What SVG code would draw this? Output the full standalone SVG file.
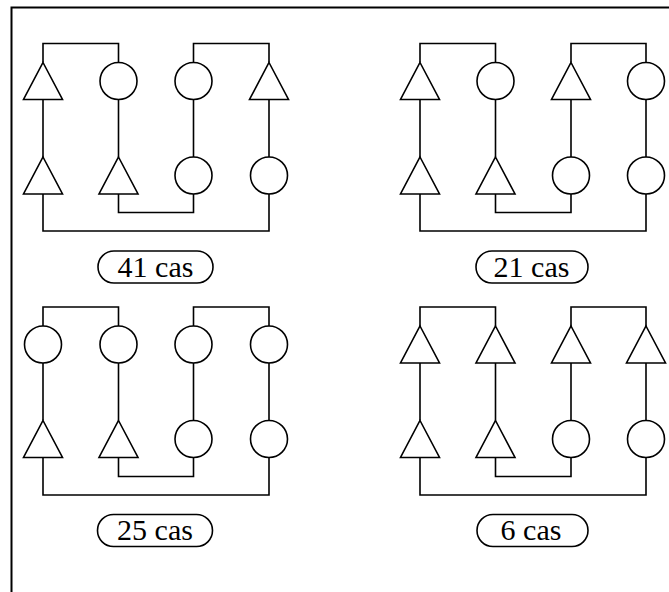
<svg xmlns="http://www.w3.org/2000/svg" xmlns:xlink="http://www.w3.org/1999/xlink" width="669" height="592" viewBox="0 0 669 592">
<style>
  .shape { fill: #fff; stroke: #000; stroke-width: 1.6; }
  .conn { fill: none; stroke: #000; stroke-width: 1.6; }
  .pill { fill: #fff; stroke: #000; stroke-width: 1.6; }
  .lbl { font-family: "Liberation Serif", "Times New Roman", serif; font-size: 30px; fill: #000; text-anchor: middle; }
  .frame { fill: none; stroke: #000; stroke-width: 2; }
</style>
<defs>
  <path id="tri" d="M0,0 L19.5,37 L-19.5,37 Z"/>
  <circle id="circ" cx="0" cy="18.5" r="18.5"/>
</defs>
<rect width="669" height="592" fill="#fff"/>
<rect class="frame" x="11.5" y="7.5" width="700" height="700"/>

<g id="connectors" class="conn">
  <!-- top-left -->
  <path d="M43,62.5 V43.5 H118.5 V62.5 M193.5,62.5 V43.5 H269 V62.5"/>
  <path d="M43,99.5 V157 M118.5,99.5 V157 M193.5,99.5 V157 M269,99.5 V157"/>
  <path d="M118.5,194 V212.5 H193.5 V194 M43,194 V231 H269 V194"/>
  <!-- top-right -->
  <path d="M420,62.5 V43.5 H495.5 V62.5 M571,62.5 V43.5 H646 V62.5"/>
  <path d="M420,99.5 V157 M495.5,99.5 V157 M571,99.5 V157 M646,99.5 V157"/>
  <path d="M495.5,194 V212.5 H571 V194 M420,194 V231 H646 V194"/>
  <!-- bottom-left -->
  <path d="M43,326 V307 H118.5 V326 M193.5,326 V307 H269 V326"/>
  <path d="M43,363 V420.5 M118.5,363 V420.5 M193.5,363 V420.5 M269,363 V420.5"/>
  <path d="M118.5,457.5 V476.5 H193.5 V457.5 M43,457.5 V495 H269 V457.5"/>
  <!-- bottom-right -->
  <path d="M420,326 V307 H495.5 V326 M571,326 V307 H646 V326"/>
  <path d="M420,363 V420.5 M495.5,363 V420.5 M571,363 V420.5 M646,363 V420.5"/>
  <path d="M495.5,457.5 V476.5 H571 V457.5 M420,457.5 V495 H646 V457.5"/>
</g>

<!-- top-left panel -->
<g id="tl-1u" class="shape"><use href="#tri" x="43" y="62.5"/></g>
<g id="tl-1l" class="shape"><use href="#tri" x="43" y="157"/></g>
<g id="tl-2u" class="shape"><use href="#circ" x="118.5" y="62.5"/></g>
<g id="tl-2l" class="shape"><use href="#tri" x="118.5" y="157"/></g>
<g id="tl-3u" class="shape"><use href="#circ" x="193.5" y="62.5"/></g>
<g id="tl-3l" class="shape"><use href="#circ" x="193.5" y="157"/></g>
<g id="tl-4u" class="shape"><use href="#tri" x="269" y="62.5"/></g>
<g id="tl-4l" class="shape"><use href="#circ" x="269" y="157"/></g>
<g id="tl-label"><rect class="pill" x="98" y="251" width="115" height="32" rx="16"/><text class="lbl" x="155.5" y="276.5">41 cas</text></g>

<!-- top-right panel -->
<g id="tr-1u" class="shape"><use href="#tri" x="420" y="62.5"/></g>
<g id="tr-1l" class="shape"><use href="#tri" x="420" y="157"/></g>
<g id="tr-2u" class="shape"><use href="#circ" x="495.5" y="62.5"/></g>
<g id="tr-2l" class="shape"><use href="#tri" x="495.5" y="157"/></g>
<g id="tr-3u" class="shape"><use href="#tri" x="571" y="62.5"/></g>
<g id="tr-3l" class="shape"><use href="#circ" x="571" y="157"/></g>
<g id="tr-4u" class="shape"><use href="#circ" x="646" y="62.5"/></g>
<g id="tr-4l" class="shape"><use href="#circ" x="646" y="157"/></g>
<g id="tr-label"><rect class="pill" x="476" y="251" width="112" height="32" rx="16"/><text class="lbl" x="531.5" y="276.5">21 cas</text></g>

<!-- bottom-left panel -->
<g id="bl-1u" class="shape"><use href="#circ" x="43" y="326"/></g>
<g id="bl-1l" class="shape"><use href="#tri" x="43" y="420.5"/></g>
<g id="bl-2u" class="shape"><use href="#circ" x="118.5" y="326"/></g>
<g id="bl-2l" class="shape"><use href="#tri" x="118.5" y="420.5"/></g>
<g id="bl-3u" class="shape"><use href="#circ" x="193.5" y="326"/></g>
<g id="bl-3l" class="shape"><use href="#circ" x="193.5" y="420.5"/></g>
<g id="bl-4u" class="shape"><use href="#circ" x="269" y="326"/></g>
<g id="bl-4l" class="shape"><use href="#circ" x="269" y="420.5"/></g>
<g id="bl-label"><rect class="pill" x="97.5" y="514.5" width="115" height="32" rx="16"/><text class="lbl" x="155" y="540">25 cas</text></g>

<!-- bottom-right panel -->
<g id="br-1u" class="shape"><use href="#tri" x="420" y="326"/></g>
<g id="br-1l" class="shape"><use href="#tri" x="420" y="420.5"/></g>
<g id="br-2u" class="shape"><use href="#tri" x="495.5" y="326"/></g>
<g id="br-2l" class="shape"><use href="#tri" x="495.5" y="420.5"/></g>
<g id="br-3u" class="shape"><use href="#tri" x="571" y="326"/></g>
<g id="br-3l" class="shape"><use href="#circ" x="571" y="420.5"/></g>
<g id="br-4u" class="shape"><use href="#tri" x="646" y="326"/></g>
<g id="br-4l" class="shape"><use href="#circ" x="646" y="420.5"/></g>
<g id="br-label"><rect class="pill" x="477" y="514.5" width="111" height="32" rx="16"/><text class="lbl" x="531" y="540">6 cas</text></g>
</svg>
